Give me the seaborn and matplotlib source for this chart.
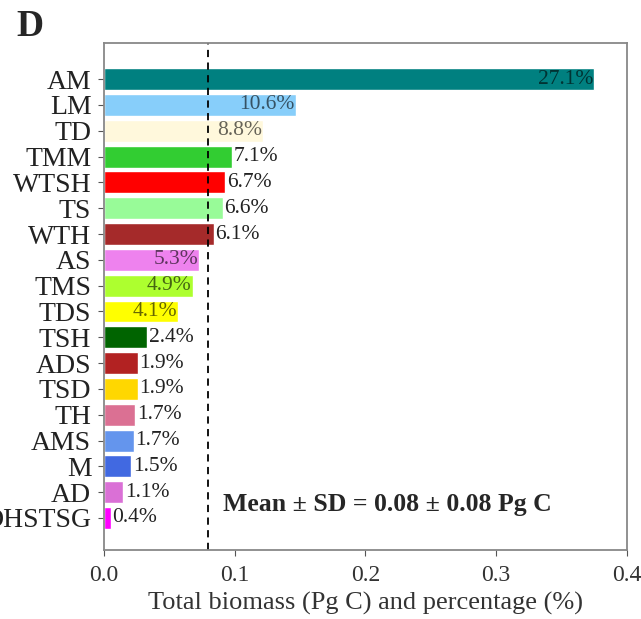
import matplotlib
matplotlib.use("Agg")
import matplotlib.pyplot as plt
import seaborn as sns
import pandas as pd

# Biome abbreviations, total biomass (Pg C) and share of the global total (%)
biomes = ["AM", "LM", "TD", "TMM", "WTSH", "TS", "WTH", "AS", "TMS", "TDS",
          "TSH", "ADS", "TSD", "TH", "AMS", "M", "AD", "DHSTSG"]
biomass = [0.375, 0.147, 0.122, 0.098, 0.093, 0.091, 0.084, 0.073, 0.068, 0.057,
           0.033, 0.026, 0.026, 0.024, 0.023, 0.021, 0.015, 0.0055]
percent = [27.1, 10.6, 8.8, 7.1, 6.7, 6.6, 6.1, 5.3, 4.9, 4.1,
           2.4, 1.9, 1.9, 1.7, 1.7, 1.5, 1.1, 0.4]
colors = ["#008080", "#87CEFA", "#FFF8DC", "#32CD32", "#FF0000", "#98FB98",
          "#A52A2A", "#EE82EE", "#ADFF2F", "#FFFF00", "#006400", "#B22222",
          "#FFD700", "#DB7093", "#6495ED", "#4169E1", "#DA70D6", "#FF00FF"]
inside_label = ["AM", "LM", "TD", "AS", "TMS", "TDS"]
mean_value = 0.08
mean_text = "Mean ± SD = 0.08 ± 0.08 Pg C"
x_ticks = [0.0, 0.1, 0.2, 0.3, 0.4]

df = pd.DataFrame({"biome": biomes, "biomass": biomass, "percent": percent})

sns.set_style("white")
plt.rcParams["font.family"] = ["Liberation Serif", "DejaVu Serif"]

fig = plt.figure(figsize=(6.41, 6.19), dpi=100)
ax = fig.add_axes([0.162, 0.1115, 0.816, 0.819])

sns.barplot(data=df, y="biome", x="biomass", hue="biome", order=biomes,
            palette=dict(zip(biomes, colors)), orient="h", width=0.85,
            legend=False, ax=ax, saturation=1)

for i, (b, v, p) in enumerate(zip(biomes, biomass, percent)):
    if b in inside_label:
        ax.text(v - 0.001, i, f"{p}%", ha="right", va="center",
                fontsize=15.5, color="black", alpha=0.6)
    else:
        ax.text(v + 0.0012, i, f"{p}%", ha="left", va="center",
                fontsize=15.5, color="#222222")

ax.axvline(mean_value, color="black", linestyle=(0, (4, 3)), linewidth=1.3)
ax.text(0.228, 0.089, mean_text, transform=ax.transAxes, ha="left",
        va="center", fontsize=18.5, fontweight="bold")

ax.set_xlim(0, 0.4)
ax.set_ylim(18.24, -1.4)
ax.set_xticks(x_ticks)
ax.set_xticklabels([f"{t:.1f}" for t in x_ticks], fontsize=17, color="#333333")
ax.tick_params(axis="y", labelsize=20, length=4, color="#555555", left=True,
               pad=5)
ax.tick_params(axis="x", length=4, color="#555555", bottom=True, pad=7)
for lab in ax.get_yticklabels():
    lab.set_color("#222222")
ax.set_ylabel("")
ax.set_xlabel("Total biomass (Pg C) and percentage (%)", fontsize=19,
              color="#333333", labelpad=4)
for s in ax.spines.values():
    s.set_color("#888888")
    s.set_linewidth(1.3)

fig.text(0.026, 0.957, "D", fontsize=27, fontweight="bold", ha="left",
         va="center")

fig.savefig("out.png", dpi=100)
